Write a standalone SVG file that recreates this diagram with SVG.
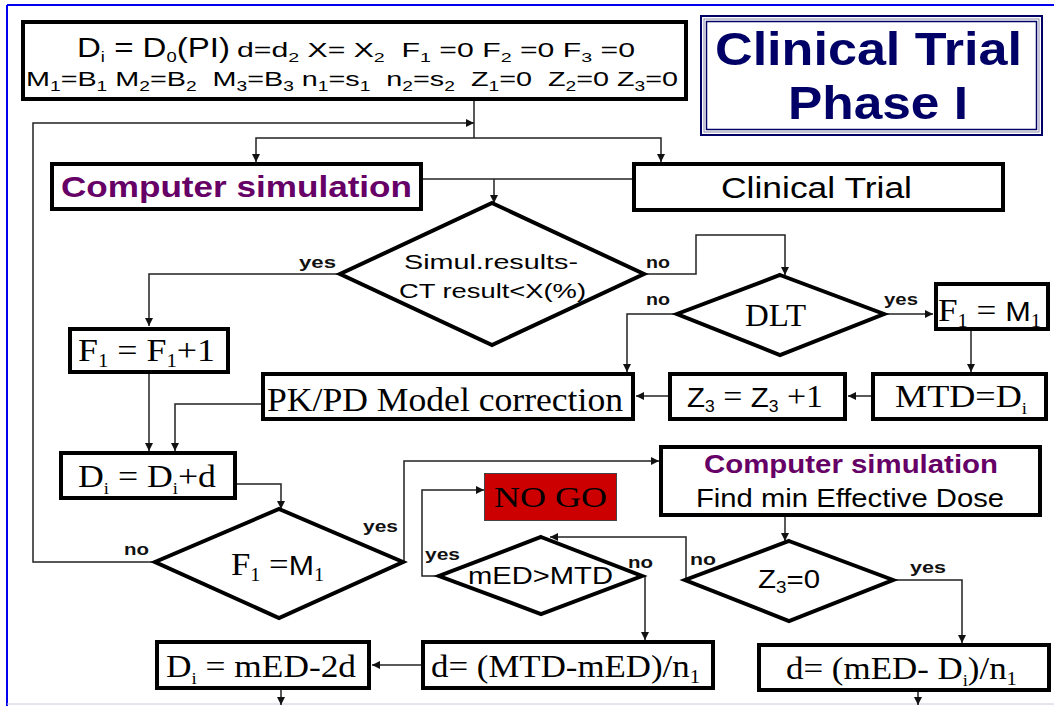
<svg xmlns="http://www.w3.org/2000/svg" width="1054" height="706" viewBox="0 0 1054 706">
<defs>
<style>
.box{fill:#fff;stroke:#000;stroke-width:4}
.dia{fill:#fff;stroke:#000;stroke-width:4;stroke-linejoin:miter;stroke-miterlimit:20}
.ln{fill:none;stroke:#222;stroke-width:1.5}
.ar{marker-end:url(#ah)}
.sans{font-family:"Liberation Sans",Arial,sans-serif;fill:#000}
.serif{font-family:"Liberation Serif","Times New Roman",serif;fill:#000}
.lbl{font-family:"Liberation Sans",Arial,sans-serif;font-weight:bold;font-size:17px;fill:#111}
.pur{fill:#660066;font-weight:bold}
.ttl{font-family:"Liberation Sans",Arial,sans-serif;font-weight:bold;font-size:46px;fill:#000066}
</style>
<marker id="ah" viewBox="0 0 10 10" refX="10" refY="5" markerWidth="8" markerHeight="8" markerUnits="userSpaceOnUse" orient="auto"><path d="M0,0 L10,5 L0,10 z" fill="#111"/></marker>
</defs>
<rect x="0" y="0" width="1054" height="706" fill="#fff"/>
<g id="frame">
<line x1="7" y1="5" x2="1054" y2="5" stroke="#0000ee" stroke-width="2"/>
<line x1="7" y1="5" x2="7" y2="706" stroke="#0000ee" stroke-width="2"/>
<line x1="7" y1="704" x2="1054" y2="704" stroke="#ccd" stroke-width="1"/>
</g>

<g id="connectors">
<path class="ln" d="M474,101 V138"/>
<path class="ln ar" d="M474,138 H256 V162"/>
<path class="ln ar" d="M474,138 H661 V162"/>
<path class="ln ar" d="M155,562 H33 V123 H474"/>
<path class="ln" d="M423,179 H632"/>
<path class="ln ar" d="M494,179 V203"/>
<path class="ln ar" d="M340,274 H149 V326"/>
<path class="ln ar" d="M644,274 H696 V235 H785 V275"/>
<path class="ln ar" d="M677,314 H627 V372"/>
<path class="ln ar" d="M884,314 H933"/>
<path class="ln ar" d="M971,331 V372"/>
<path class="ln ar" d="M871,396 H848"/>
<path class="ln ar" d="M668,396 H636"/>
<path class="ln ar" d="M149,374 V451"/>
<path class="ln ar" d="M261,404 H175 V451"/>
<path class="ln ar" d="M237,484 H281 V509"/>
<path class="ln ar" d="M403,562 H404 V461 H659"/>
<path class="ln ar" d="M785,517 V541"/>
<path class="ln ar" d="M686,580 V537 H550"/>
<path class="ln ar" d="M893,580 H962 V643"/>
<path class="ln ar" d="M439,576 H422 V490 H484"/>
<path class="ln ar" d="M642,576 H645 V640"/>
<path class="ln ar" d="M421,665 H372"/>
<path class="ln ar" d="M281,690 V705"/>
<path class="ln ar" d="M918,692 V705"/>
</g>

<g id="init">
<rect class="box" x="23" y="22" width="663" height="77"/>
<text class="sans" x="77" y="57" font-size="27" textLength="153" lengthAdjust="spacingAndGlyphs">D<tspan font-size="15" dy="5">i</tspan><tspan dy="-5"> = D</tspan><tspan font-size="15" dy="5">0</tspan><tspan dy="-5">(PI)</tspan></text>
<text class="sans" x="237" y="57" font-size="20" textLength="398" lengthAdjust="spacingAndGlyphs" xml:space="preserve">d=d<tspan font-size="13" dy="5">2</tspan><tspan dy="-5"> X= X</tspan><tspan font-size="13" dy="5">2</tspan><tspan dy="-5">  F</tspan><tspan font-size="13" dy="5">1</tspan><tspan dy="-5"> =0 F</tspan><tspan font-size="13" dy="5">2</tspan><tspan dy="-5"> =0 F</tspan><tspan font-size="13" dy="5">3</tspan><tspan dy="-5"> =0</tspan></text>
<text class="sans" x="26" y="86" font-size="21" textLength="652" lengthAdjust="spacingAndGlyphs" xml:space="preserve">M<tspan font-size="14" dy="5">1</tspan><tspan dy="-5">=B</tspan><tspan font-size="14" dy="5">1</tspan><tspan dy="-5"> M</tspan><tspan font-size="14" dy="5">2</tspan><tspan dy="-5">=B</tspan><tspan font-size="14" dy="5">2</tspan><tspan dy="-5">  M</tspan><tspan font-size="14" dy="5">3</tspan><tspan dy="-5">=B</tspan><tspan font-size="14" dy="5">3</tspan><tspan dy="-5"> n</tspan><tspan font-size="14" dy="5">1</tspan><tspan dy="-5">=s</tspan><tspan font-size="14" dy="5">1</tspan><tspan dy="-5">  n</tspan><tspan font-size="14" dy="5">2</tspan><tspan dy="-5">=s</tspan><tspan font-size="14" dy="5">2</tspan><tspan dy="-5">  Z</tspan><tspan font-size="14" dy="5">1</tspan><tspan dy="-5">=0  Z</tspan><tspan font-size="14" dy="5">2</tspan><tspan dy="-5">=0 Z</tspan><tspan font-size="14" dy="5">3</tspan><tspan dy="-5">=0</tspan></text>
</g>

<g id="title">
<rect x="701" y="16" width="341" height="119" fill="#fff" stroke="#000066" stroke-width="2"/>
<rect x="704" y="19" width="335" height="113" fill="none" stroke="#8888aa" stroke-width="1"/>
<rect x="706.5" y="21.5" width="330" height="108" fill="none" stroke="#000066" stroke-width="1.5"/>
<text class="ttl" x="715" y="65" textLength="307" lengthAdjust="spacingAndGlyphs">Clinical Trial</text>
<text class="ttl" x="788" y="119" textLength="180" lengthAdjust="spacingAndGlyphs">Phase I</text>
</g>

<g id="compsim1">
<rect class="box" x="52" y="164" width="369" height="45"/>
<text class="sans pur" x="61" y="197" font-size="30" textLength="351" lengthAdjust="spacingAndGlyphs">Computer simulation</text>
</g>

<g id="clinical">
<rect class="box" x="634" y="164" width="369" height="46"/>
<text class="sans" x="721" y="198" font-size="30" textLength="191" lengthAdjust="spacingAndGlyphs">Clinical Trial</text>
</g>

<g id="dec-simul">
<polygon class="dia" points="492,203 644,274 492,345 340,274"/>
<text class="sans" x="404" y="269" font-size="20" textLength="174" lengthAdjust="spacingAndGlyphs">Simul.results-</text>
<text class="sans" x="399" y="298" font-size="20" textLength="187" lengthAdjust="spacingAndGlyphs">CT result&lt;X(%)</text>
<text class="lbl" x="299" y="268" textLength="37" lengthAdjust="spacingAndGlyphs">yes</text>
<text class="lbl" x="646" y="268" textLength="24" lengthAdjust="spacingAndGlyphs">no</text>
</g>

<g id="dec-dlt">
<polygon class="dia" points="780,275 884,314 780,355 677,314"/>
<text class="serif" x="745" y="326" font-size="31" textLength="61" lengthAdjust="spacingAndGlyphs">DLT</text>
<text class="lbl" x="646" y="305" textLength="24" lengthAdjust="spacingAndGlyphs">no</text>
<text class="lbl" x="884" y="305" textLength="34" lengthAdjust="spacingAndGlyphs">yes</text>
</g>

<g id="f1m1box">
<rect class="box" x="936" y="284" width="112" height="45"/>
<text class="serif" x="938" y="321" font-size="31" textLength="103" lengthAdjust="spacingAndGlyphs">F<tspan font-size="18" dy="6">1</tspan><tspan dy="-6"> = </tspan><tspan class="sans" font-size="27">M</tspan><tspan font-size="18" dy="6">1</tspan></text>
</g>

<g id="f1inc">
<rect class="box" x="70" y="329" width="158" height="43"/>
<text class="serif" x="78" y="361" font-size="31" textLength="137" lengthAdjust="spacingAndGlyphs">F<tspan font-size="18" dy="6">1</tspan><tspan dy="-6"> = F</tspan><tspan font-size="18" dy="6">1</tspan><tspan dy="-6">+1</tspan></text>
</g>

<g id="pkpd">
<rect class="box" x="263" y="374" width="370" height="45"/>
<text class="serif" x="267" y="411" font-size="33" textLength="356" lengthAdjust="spacingAndGlyphs">PK/PD Model correction</text>
</g>

<g id="z3inc">
<rect class="box" x="670" y="374" width="175" height="45"/>
<text class="serif" x="687" y="407" font-size="31" textLength="136" lengthAdjust="spacingAndGlyphs"><tspan class="sans" font-size="27">Z</tspan><tspan class="sans" font-size="16" dy="5">3</tspan><tspan dy="-5"> = </tspan><tspan class="sans" font-size="27">Z</tspan><tspan class="sans" font-size="16" dy="5">3</tspan><tspan dy="-5"> +1</tspan></text>
</g>

<g id="mtd">
<rect class="box" x="873" y="374" width="173" height="45"/>
<text class="serif" x="895" y="407" font-size="31" textLength="132" lengthAdjust="spacingAndGlyphs">MTD=D<tspan font-size="16" dy="7">i</tspan></text>
</g>

<g id="diinc">
<rect class="box" x="61" y="453" width="174" height="45"/>
<text class="serif" x="78" y="487" font-size="31" textLength="138" lengthAdjust="spacingAndGlyphs">D<tspan font-size="16" dy="7">i</tspan><tspan dy="-7"> = D</tspan><tspan font-size="16" dy="7">i</tspan><tspan dy="-7">+d</tspan></text>
</g>

<g id="dec-f1m1">
<polygon class="dia" points="279,509 403,562 279,618 155,562"/>
<text class="serif" x="231" y="575" font-size="31" textLength="93" lengthAdjust="spacingAndGlyphs">F<tspan font-size="18" dy="6">1</tspan><tspan dy="-6"> =</tspan><tspan class="sans" font-size="27">M</tspan><tspan font-size="18" dy="6">1</tspan></text>
<text class="lbl" x="124" y="555" textLength="25" lengthAdjust="spacingAndGlyphs">no</text>
<text class="lbl" x="363" y="532" textLength="35" lengthAdjust="spacingAndGlyphs">yes</text>
</g>

<g id="compsim2">
<rect class="box" x="661" y="447" width="379" height="68"/>
<text class="sans pur" x="704" y="473" font-size="25" textLength="294" lengthAdjust="spacingAndGlyphs">Computer simulation</text>
<text class="sans" x="696" y="507" font-size="25" textLength="308" lengthAdjust="spacingAndGlyphs">Find min Effective Dose</text>
</g>

<g id="nogo">
<rect x="484.5" y="473.5" width="132" height="47" fill="#cc0000" stroke="#444" stroke-width="1"/>
<text class="serif" x="494" y="507" font-size="29" textLength="113" lengthAdjust="spacingAndGlyphs">NO GO</text>
</g>

<g id="dec-med">
<polygon class="dia" points="541,537 642,576 541,614 439,576"/>
<text class="sans" x="468" y="584" font-size="24" textLength="145" lengthAdjust="spacingAndGlyphs">mED&gt;MTD</text>
<text class="lbl" x="425" y="560" textLength="35" lengthAdjust="spacingAndGlyphs">yes</text>
<text class="lbl" x="628" y="568" textLength="25" lengthAdjust="spacingAndGlyphs">no</text>
</g>

<g id="dec-z3">
<polygon class="dia" points="789,541 893,580 789,621 685,580"/>
<text class="sans" x="758" y="588" font-size="25" textLength="62" lengthAdjust="spacingAndGlyphs">Z<tspan font-size="16" dy="5">3</tspan><tspan dy="-5">=0</tspan></text>
<text class="lbl" x="690" y="565" textLength="26" lengthAdjust="spacingAndGlyphs">no</text>
<text class="lbl" x="910" y="573" textLength="36" lengthAdjust="spacingAndGlyphs">yes</text>
</g>

<g id="dimed2d">
<rect class="box" x="157" y="642" width="212" height="46"/>
<text class="serif" x="166" y="677" font-size="32" textLength="190" lengthAdjust="spacingAndGlyphs">D<tspan font-size="17" dy="7">i</tspan><tspan dy="-7"> = mED-2d</tspan></text>
</g>

<g id="dmtdmed">
<rect class="box" x="423" y="642" width="290" height="46"/>
<text class="serif" x="431" y="677" font-size="32" textLength="269" lengthAdjust="spacingAndGlyphs">d= (MTD-mED)/n<tspan font-size="19" dy="6">1</tspan></text>
</g>

<g id="dmeddi">
<rect class="box" x="759" y="645" width="290" height="45"/>
<text class="serif" x="786" y="679" font-size="32" textLength="231" lengthAdjust="spacingAndGlyphs">d= (mED- D<tspan font-size="17" dy="7">i</tspan><tspan dy="-7">)/n</tspan><tspan font-size="19" dy="6">1</tspan></text>
</g>
</svg>
